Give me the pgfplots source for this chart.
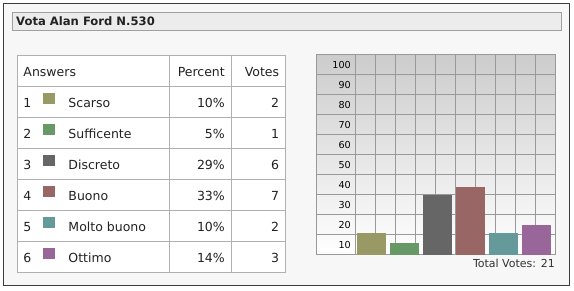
\documentclass[border=0pt]{standalone}
\usepackage{fontspec}
\setmainfont{DejaVu Sans}
\usepackage{pgfplots}
\pgfplotsset{compat=1.18}
\definecolor{framebg}{HTML}{F7F7F7}
\definecolor{frameline}{HTML}{3C3C3C}
\definecolor{titlebg}{HTML}{ECECEC}
\definecolor{titleline}{HTML}{A0A0A0}
\definecolor{tabline}{HTML}{B0B0B0}
\definecolor{gridgray}{HTML}{999999}
\definecolor{gradtop}{HTML}{CCCCCC}
\definecolor{txt}{HTML}{222222}
\definecolor{cA}{HTML}{999966}
\definecolor{cB}{HTML}{669966}
\definecolor{cC}{HTML}{666666}
\definecolor{cD}{HTML}{996666}
\definecolor{cE}{HTML}{669999}
\definecolor{cF}{HTML}{996699}
\begin{document}
\begin{tikzpicture}
\useasboundingbox (0,0) rectangle (574bp,291bp);
\begin{scope}[x=1bp, y=-1bp, shift={(0,291bp)}]
  % outer frame
  \fill[white] (0,0) rectangle (574,291);
  \draw[frameline, fill=framebg, line width=1bp] (3.5,3.5) rectangle (569.5,285.5);
  % title
  \draw[titleline, fill=titlebg, line width=1bp] (12.5,12.5) rectangle (561.5,30.5);
  \node[anchor=base west, inner sep=0pt, text=txt, font=\fontsize{11.6bp}{14bp}\selectfont\bfseries] at (16,26) {Vota Alan Ford N.530};
  % table
  \draw[tabline, fill=white, line width=1bp] (17.5,55.5) rectangle (285.5,272.5);
  \draw[tabline, line width=1bp] (169.5,55.5) -- (169.5,272.5) (231.5,55.5) -- (231.5,272.5);
  \foreach \r in {86,117,148,179,210,241} {\draw[tabline, line width=1bp] (17.5,\r.5) -- (285.5,\r.5);}
  \begin{scope}[every node/.style={inner sep=0pt, text=txt, font=\fontsize{12.5bp}{15bp}\selectfont}]
    \node[anchor=base west] at (23.3,76.8) {Answers};
    \node[anchor=base east] at (225,76.8) {Percent};
    \node[anchor=base east] at (279.3,76.8) {Votes};
    \foreach \i/\nm/\pc/\vt/\col in {1/Scarso/10/2/cA, 2/Sufficente/5/1/cB, 3/Discreto/29/6/cC, 4/Buono/33/7/cD, 5/Molto buono/10/2/cE, 6/Ottimo/14/3/cF} {
      \pgfmathsetmacro{\rt}{86+31*(\i-1)}
      \node[anchor=base west] at (23.3,\rt+22) {\i};
      \fill[\col] (43.3,\rt+7) rectangle (54.8,\rt+18.5);
      \node[anchor=base west] at (68.3,\rt+22) {\nm};
      \node[anchor=base east] at (225,\rt+22) {\pc\%};
      \node[anchor=base east] at (279.3,\rt+22) {\vt};
    }
  \end{scope}
  \node[anchor=base east, inner sep=0pt, text=black!80, font=\fontsize{11bp}{13bp}\selectfont] at (555,268) {Total Votes: 21};
\end{scope}
\begin{axis}[
  at={(316bp,36.5bp)}, anchor=south west,
  scale only axis, width=239.5bp, height=199.5bp,
  xmin=0, xmax=12, ymin=0, ymax=100,
  axis line style={draw=gridgray, line width=1bp},
  xtick={2,3,...,11}, xticklabels={}, xmajorgrids,
  ytick={5,15,25,35,45,55,65,75,85,95},
  yticklabels={10,20,30,40,50,60,70,80,90,100},
  minor ytick={10,20,30,40,50,60,70,80,90}, yminorgrids,
  major grid style={draw=gridgray, line width=1bp},
  minor grid style={draw=gridgray, line width=1bp},
  major tick length=0pt, minor tick length=0pt,
  /pgf/number format/assume math mode=true,
  yticklabel style={anchor=east, inner sep=0pt, xshift=35bp, text=black, font=\fontsize{9.6bp}{11bp}\selectfont},
  axis background/.style={top color=gradtop, bottom color=white},
]
\addplot[ybar, bar width=1.468, bar shift=0pt, fill=cA, draw=none] coordinates {(2.77,10.6)};
\addplot[ybar, bar width=1.468, bar shift=0pt, fill=cB, draw=none] coordinates {(4.43,5.6)};
\addplot[ybar, bar width=1.468, bar shift=0pt, fill=cC, draw=none] coordinates {(6.09,29.9)};
\addplot[ybar, bar width=1.468, bar shift=0pt, fill=cD, draw=none] coordinates {(7.73,33.6)};
\addplot[ybar, bar width=1.468, bar shift=0pt, fill=cE, draw=none] coordinates {(9.39,10.6)};
\addplot[ybar, bar width=1.468, bar shift=0pt, fill=cF, draw=none] coordinates {(11.04,14.6)};
\end{axis}
\end{tikzpicture}
\end{document}
